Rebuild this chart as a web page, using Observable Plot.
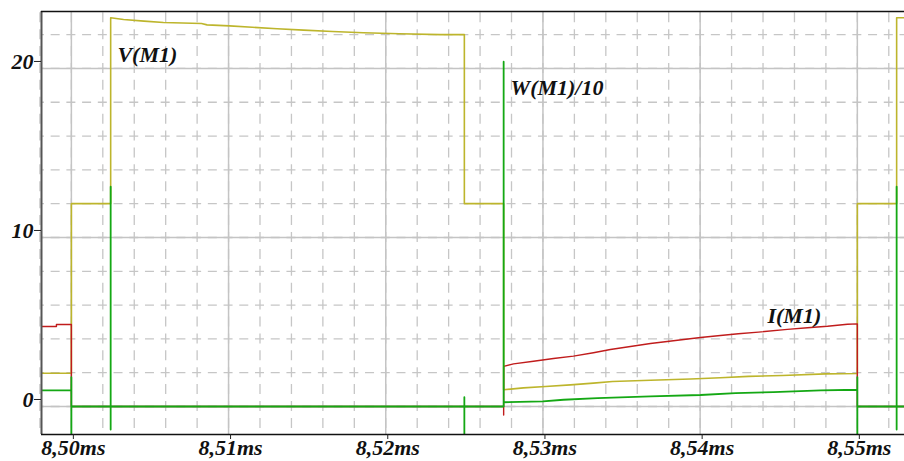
<!DOCTYPE html>
<html><head><meta charset="utf-8">
<script src="https://cdn.jsdelivr.net/npm/d3@7"></script>
<script src="https://cdn.jsdelivr.net/npm/@observablehq/plot@0.6"></script>
<style>html,body{margin:0;padding:0;background:#fff;} svg{display:block}</style>
</head><body><div id="chart"></div>
<script>
// ---- data (time in ms); repeated times are the vertical switching edges ----
const vTime  = [8.4981, 8.5000, 8.5000, 8.5025, 8.5025, 8.50332, 8.50462, 8.50586, 8.50828, 8.50863, 8.51006, 8.5115, 8.51309, 8.51477, 8.51661, 8.51858, 8.52087, 8.52348, 8.5250, 8.5250, 8.5275, 8.5275, 8.52876, 8.53016, 8.53175, 8.53321, 8.53442, 8.53684, 8.53939, 8.54129, 8.54308, 8.54524, 8.54797, 8.5500, 8.5500, 8.5525, 8.5525, 8.5530];
const vValue = [1.97, 1.97, 12.0, 12.0, 23.0, 22.9, 22.8, 22.72, 22.66, 22.58, 22.52, 22.44, 22.35, 22.27, 22.19, 22.11, 22.05, 22.0, 22.0, 12.0, 12.0, 0.99, 1.10, 1.18, 1.28, 1.38, 1.48, 1.55, 1.63, 1.70, 1.78, 1.83, 1.93, 1.95, 12.0, 12.0, 23.0, 23.0];

const iTime  = [8.4981, 8.49905, 8.49905, 8.5000, 8.5000, 8.5275, 8.5275, 8.5275, 8.52813, 8.5294, 8.53067, 8.53194, 8.53321, 8.53429, 8.53684, 8.54002, 8.54129, 8.54243, 8.54371, 8.54555, 8.54683, 8.5481, 8.54937, 8.5500, 8.5500, 8.5530];
const iValue = [4.73, 4.73, 4.85, 4.85, 0, 0, -0.5, 2.37, 2.52, 2.68, 2.84, 2.98, 3.18, 3.37, 3.73, 4.08, 4.2, 4.3, 4.4, 4.56, 4.66, 4.75, 4.87, 4.89, 0, 0];

const wTime  = [8.4981, 8.5000, 8.5000, 8.5000, 8.5000, 8.5025, 8.5025, 8.5025, 8.5025, 8.5250, 8.5250, 8.5250, 8.5250, 8.5275, 8.5275, 8.5275, 8.5300, 8.53131, 8.53347, 8.53684, 8.54002, 8.54225, 8.54467, 8.54766, 8.5500, 8.5500, 8.5500, 8.5500, 8.5525, 8.5525, 8.5525, 8.5525, 8.5530];
const wValue = [0.95, 0.95, 1.73, -3, 0, 0, 13.0, -1.36, 0, 0, 0.55, -3, 0, 0, 20.4, 0.25, 0.3, 0.4, 0.49, 0.6, 0.68, 0.79, 0.85, 0.95, 0.99, 1.73, -3, 0, 0, 13.0, -1.36, 0, 0];

const labelText  = ["V(M1)", "W(M1)/10", "I(M1)"];
const labelTime  = [8.50293, 8.52794, 8.54428];
const labelValue = [20.77, 18.82, 5.33];

const xTicks = [8.50, 8.51, 8.52, 8.53, 8.54, 8.55];
const yTicks = [0, 10, 20];

// ---- layout ----
const W = 904, H = 461, mL = 41, mR = 0, mT = 11, mB = 27;
const xDomain = [8.4981, 8.5530];
const yDomain = [-1.657, 23.37];
const pxX = (W - mL - mR) / (xDomain[1] - xDomain[0]);
const pxY = (H - mT - mB) / (yDomain[1] - yDomain[0]);

const xMinor = d3.range(0, 28).map(i => +(8.498 + i * 0.002).toFixed(3));
const yMinor = d3.range(0, 24, 2);

// dash patterns centred on grid crossings
const mod = (a, b) => ((a % b) + b) % b;
const hPeriod = 0.001 * pxX, hDash = 9;
const hCenter = mL + (8.50 - xDomain[0]) * pxX;
const hOffset = mod(mL - (hCenter - hDash / 2), hPeriod);
const vPeriod = 1 * pxY, vDash = 10;
const vCenter = mT + (yDomain[1] - 23) * pxY;
const vOffset = mod(mT - (vCenter - vDash / 2), vPeriod);

const V = vTime.map((t, i) => ({t, v: vValue[i]}));
const I = iTime.map((t, i) => ({t, v: iValue[i]}));
const Wd = wTime.map((t, i) => ({t, v: wValue[i]}));
const labels = labelText.map((s, i) => ({s, t: labelTime[i], v: labelValue[i]}));

const font = {fontFamily: "'Liberation Serif', 'Times New Roman', serif", fontWeight: "bold", fontStyle: "italic"};

const chart = Plot.plot({
  width: W, height: H,
  marginLeft: mL, marginRight: mR, marginTop: mT, marginBottom: mB,
  style: {background: "#fff", fontFamily: font.fontFamily, fontSize: "22px", fontWeight: "bold", fontStyle: "italic", color: "#111"},
  x: {domain: xDomain},
  y: {domain: yDomain},
  marks: [
    // dashed minor grid
    Plot.ruleX(xMinor, {stroke: "#c6c6c6", strokeWidth: 1.3, strokeDasharray: `${vDash},${vPeriod - vDash}`, strokeDashoffset: vOffset}),
    Plot.ruleY(yMinor, {stroke: "#c6c6c6", strokeWidth: 1.3, strokeDasharray: `${hDash},${hPeriod - hDash}`, strokeDashoffset: hOffset}),
    // solid major grid
    Plot.ruleX(xTicks, {stroke: "#c4c4c4", strokeWidth: 1.5}),
    Plot.ruleY(yTicks, {stroke: "#c4c4c4", strokeWidth: 1.5}),
    // traces
    Plot.line(V, {x: "t", y: "v", stroke: "#bdb52c", strokeWidth: 1.6, clip: true}),
    Plot.line(I, {x: "t", y: "v", stroke: "#c01c1c", strokeWidth: 1.4, clip: true}),
    Plot.line(Wd, {x: "t", y: "v", stroke: "#14a814", strokeWidth: 1.8, clip: true}),
    // frame
    Plot.ruleX([xDomain[0]], {stroke: "#555", strokeWidth: 2}),
    Plot.ruleY([yDomain[0]], {stroke: "#111", strokeWidth: 1.5}),
    Plot.ruleY([yDomain[1]], {stroke: "#111", strokeWidth: 1.5}),
    // axes
    Plot.axisY({ticks: yTicks, tickSize: 7, tickPadding: 1, tickFormat: d => String(d), stroke: "#222", fill: "#111", fontSize: 22, dy: -7, label: null}),
    Plot.axisX({ticks: xTicks, tickSize: 5, tickPadding: 0, tickFormat: d => d.toFixed(2).replace(".", ",") + "ms", stroke: "#222", fill: "#111", fontSize: 22, dx: 2, label: null}),
    // series labels
    Plot.text(labels, {x: "t", y: "v", text: "s", textAnchor: "start", fill: "#111", fontSize: 22, ...font})
  ]
});
document.getElementById("chart").appendChild(chart);
</script>
</body></html>
